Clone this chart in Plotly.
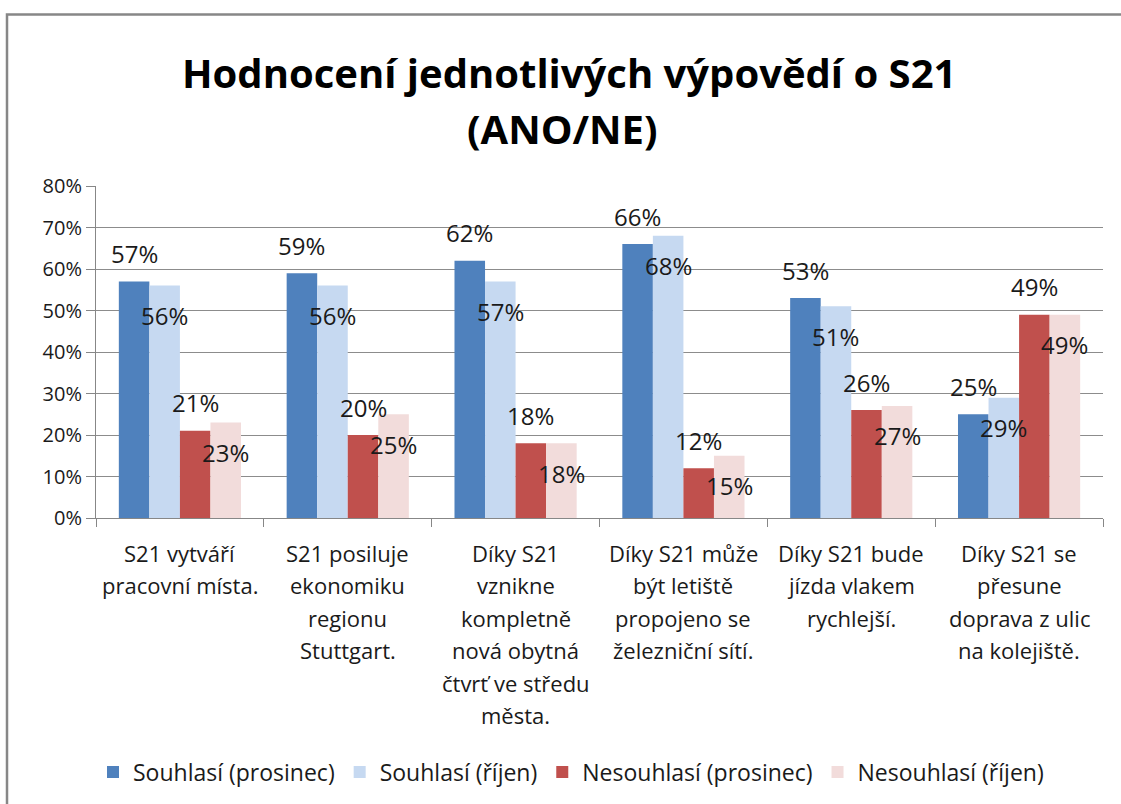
import plotly.graph_objects as go

categories = [
    ["S21 vytváří", "pracovní místa."],
    ["S21 posiluje", "ekonomiku", "regionu", "Stuttgart."],
    ["Díky S21", "vznikne", "kompletně", "nová obytná", "čtvrť ve středu", "města."],
    ["Díky S21 může", "být letiště", "propojeno se", "železniční sítí."],
    ["Díky S21 bude", "jízda vlakem", "rychlejší."],
    ["Díky S21 se", "přesune", "doprava z ulic", "na kolejiště."],
]
series_names = ["Souhlasí (prosinec)", "Souhlasí (říjen)", "Nesouhlasí (prosinec)", "Nesouhlasí (říjen)"]
souhlasi_prosinec = [57, 59, 62, 66, 53, 25]
souhlasi_rijen = [56, 56, 57, 68, 51, 29]
nesouhlasi_prosinec = [21, 20, 18, 12, 26, 49]
nesouhlasi_rijen = [23, 25, 18, 15, 27, 49]
series_values = [souhlasi_prosinec, souhlasi_rijen, nesouhlasi_prosinec, nesouhlasi_rijen]
colors = ["#4F81BD", "#C6D9F1", "#C0504D", "#F2DCDB"]
label_shift = [28, -30, 28, -30]  # dark labels above, light labels below the bar top

FONT = "Open Sans"
W, H = 1121, 804
ML, MR, MT, MB = 96, 18, 186, 285
PW, PH = W - ML - MR, H - MT - MB

def px_to_py(y):  # pixel y -> paper y
    return (H - MB - y) / PH

def px_to_px(x):
    return (x - ML) / PW

bar_w = 0.182
x_idx = list(range(len(categories)))

fig = go.Figure()
annotations = []
for j, (name, vals, col) in enumerate(zip(series_names, series_values, colors)):
    off = (j - 2) * bar_w
    fig.add_trace(go.Bar(
        x=x_idx, y=[v / 100 for v in vals], name=name,
        marker=dict(color=col, line=dict(width=0)),
        width=bar_w, offset=off,
    ))
    for i, v in enumerate(vals):
        annotations.append(dict(
            x=i + off + bar_w / 2, y=v / 100, xref="x", yref="y",
            text=f"{v}%", showarrow=False, yshift=label_shift[j],
            xanchor="center", yanchor="middle",
            font=dict(family=FONT, size=24, color="#1a1a1a"),
        ))

# category labels (one annotation per line to mimic the original line spacing)
for i, lines in enumerate(categories):
    for k, line in enumerate(lines):
        annotations.append(dict(
            x=i, y=px_to_py(554 + 32.5 * k), xref="x", yref="paper",
            text=line, showarrow=False, xanchor="center", yanchor="middle",
            font=dict(family=FONT, size=22, color="#1a1a1a"),
        ))

# title lines
annotations.append(dict(x=px_to_px(569), y=px_to_py(72), xref="paper", yref="paper",
                        text="<b>Hodnocení jednotlivých výpovědí o S21</b>", showarrow=False,
                        xanchor="center", yanchor="middle",
                        font=dict(family=FONT, size=40, color="#000000")))
annotations.append(dict(x=px_to_px(562), y=px_to_py(128), xref="paper", yref="paper",
                        text="<b>(ANO/NE)</b>", showarrow=False,
                        xanchor="center", yanchor="middle",
                        font=dict(family=FONT, size=40, color="#000000")))

fig.update_layout(
    width=W, height=H,
    margin=dict(l=ML, r=MR, t=MT, b=MB),
    paper_bgcolor="white", plot_bgcolor="white",
    barmode="group",
    showlegend=True,
    legend=dict(orientation="h", x=px_to_px(571), xanchor="center",
                y=px_to_py(772), yanchor="middle",
                font=dict(family=FONT, size=23, color="#1a1a1a"),
                itemwidth=30, tracegroupgap=0),
    annotations=annotations,
    shapes=[dict(type="rect", xref="paper", yref="paper",
                 x0=px_to_px(7), x1=px_to_px(1140), y0=px_to_py(830), y1=px_to_py(14),
                 line=dict(color="#878787", width=2.5), fillcolor="rgba(0,0,0,0)", layer="below")],
)
fig.update_xaxes(
    range=[-0.5, len(categories) - 0.5],
    tickvals=[i - 0.5 for i in range(len(categories) + 1)],
    ticktext=[""] * (len(categories) + 1),
    ticks="outside", ticklen=8, tickcolor="#878787", tickwidth=1,
    showgrid=False, showline=True, linecolor="#878787", linewidth=1,
    zeroline=False, fixedrange=True,
)
fig.update_yaxes(
    range=[0, 0.8], dtick=0.1, tickformat=".0%",
    ticks="outside", ticklen=9, tickcolor="#878787",
    showgrid=True, gridcolor="#8C8C8C", gridwidth=1,
    showline=True, linecolor="#878787", linewidth=1, zeroline=False,
    tickfont=dict(family=FONT, size=20, color="#1a1a1a"),
)

fig.write_html(
    "out.html",
    config={"displayModeBar": False},
    post_script="document.body.style.margin='0';document.body.style.overflow='hidden';",
)
